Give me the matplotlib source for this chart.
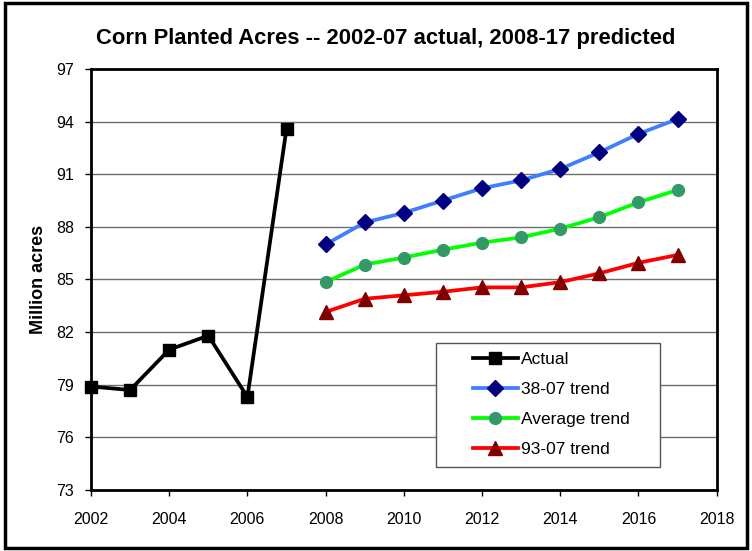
import matplotlib
matplotlib.use("Agg")
import matplotlib.pyplot as plt
from matplotlib.patches import Rectangle

plt.rcParams['font.family'] = ['Liberation Sans', 'DejaVu Sans']

actual_years = [2002, 2003, 2004, 2005, 2006, 2007]
actual = [78.9, 78.7, 81.0, 81.8, 78.3, 93.6]

trend_years = list(range(2008, 2018))
trend_38_07 = [87.0, 88.25, 88.8, 89.5, 90.2, 90.65, 91.3, 92.25, 93.3, 94.15]
trend_avg = [84.85, 85.85, 86.25, 86.7, 87.1, 87.4, 87.9, 88.55, 89.4, 90.1]
trend_93_07 = [83.15, 83.9, 84.1, 84.3, 84.55, 84.55, 84.85, 85.35, 85.95, 86.4]

xticks = list(range(2002, 2019, 2))
yticks = list(range(73, 98, 3))

fig = plt.figure(figsize=(7.52, 5.51), dpi=100)
ax = fig.add_axes([0.121, 0.1107, 0.832, 0.7641])

# outer frame of the chart area
fig.patches.append(Rectangle((0.006, 0.006), 0.988, 0.988, transform=fig.transFigure,
                             fill=False, edgecolor='black', linewidth=2.5))

ax.plot(actual_years, actual, color='black', lw=2.7, marker='s', ms=9,
        mfc='black', mec='black', label='Actual', clip_on=False, zorder=5)
ax.plot(trend_years, trend_38_07, color='#3f7fff', lw=2.7, marker='D', ms=8,
        mfc='#000080', mec='#000080', label='38-07 trend', zorder=4)
ax.plot(trend_years, trend_avg, color='#00ff00', lw=2.7, marker='o', ms=8.5,
        mfc='#339966', mec='#339966', label='Average trend', zorder=4)
ax.plot(trend_years, trend_93_07, color='#ff0000', lw=2.7, marker='^', ms=10,
        mfc='#800000', mec='#800000', label='93-07 trend', zorder=4)

ax.set_xlim(2002, 2018)
ax.set_ylim(73, 97)
ax.set_xticks(xticks)
ax.set_yticks(yticks)
ax.tick_params(labelsize=11.5, direction='out', length=4, width=1)
ax.tick_params(axis='x', pad=12)
ax.tick_params(axis='y', pad=8)
ax.yaxis.grid(True, color='#6e6e6e', lw=1)
ax.set_axisbelow(True)
for s in ax.spines.values():
    s.set_linewidth(2)

ax.set_ylabel('Million acres', fontsize=13, fontweight='bold', labelpad=7)
fig.text(0.513, 0.931, 'Corn Planted Acres -- 2002-07 actual, 2008-17 predicted',
         fontsize=15.8, fontweight='bold', ha='center', va='center')

# legend box drawn separately so the entries can sit inside it like the original
ax.add_patch(Rectangle((0.551, 0.0546), 0.358, 0.294, transform=ax.transAxes,
                       facecolor='white', edgecolor='#555555', lw=1, zorder=9))
leg = ax.legend(loc='upper left', bbox_to_anchor=(0.610, 0.328), fontsize=12.5,
                frameon=False, borderpad=0, labelspacing=0.85,
                handlelength=2.6, handletextpad=0.2, borderaxespad=0)
leg.set_zorder(10)

fig.savefig('out.png', dpi=100)
